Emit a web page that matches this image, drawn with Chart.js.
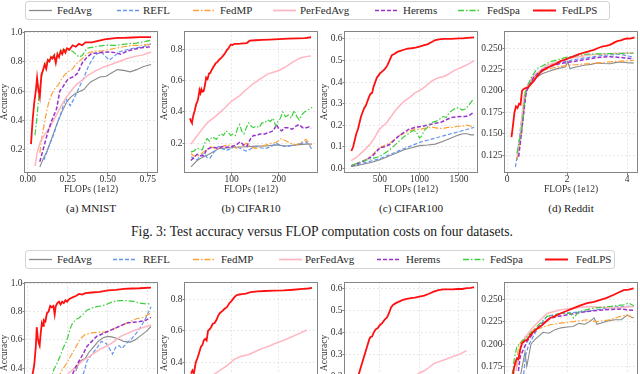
<!DOCTYPE html>
<html>
<head>
<meta charset="utf-8">
<script src="https://cdn.jsdelivr.net/npm/chart.js@4.4.0/dist/chart.umd.min.js"></script>
<style>
  html, body { margin: 0; padding: 0; background: #fff; overflow: hidden; width: 640px; height: 374px; }
  body { position: relative; font-family: 'Liberation Serif', 'Times New Roman', serif; color: #1a1a1a; }
  .legend { position: absolute; left: 25px; height: 19px; border: 1px solid #d4d4d4; border-radius: 3px; box-sizing: border-box; background: #fff; }
  .item { position: absolute; top: 0; height: 100%; font-size: 11px; line-height: 17px; white-space: nowrap; color: #2a2a2a; }
  .item svg { position: absolute; top: 0; }
  .cap { position: absolute; white-space: nowrap; transform: translate(-50%, -50%); }
</style>
</head>
<body>
<script>
  'use strict';

  var FONT = "'Liberation Serif', 'Times New Roman', serif";

  var SERIES = ['FedAvg', 'REFL', 'FedMP', 'PerFedAvg', 'Herems', 'FedSpa', 'FedLPS'];
  var CAPTIONS = ['(a) MNIST', '(b) CIFAR10', '(c) CIFAR100', '(d) Reddit'];
  var FIG_CAPTION = 'Fig. 3: Test accuracy versus FLOP computation costs on four datasets.';

  // tick labels per dataset
  var MNIST_XTICKS = ['0.00', '0.25', '0.50', '0.75'];
  var MNIST_YTICKS = ['0.2', '0.4', '0.6', '0.8', '1.0'];
  var C10_XTICKS = ['100', '200'];
  var C10_YTICKS = ['0.2', '0.4', '0.6', '0.8'];
  var C100_XTICKS = ['500', '1000', '1500'];
  var C100_YTICKS = ['0.0', '0.1', '0.2', '0.3', '0.4', '0.5', '0.6'];
  var RD_XTICKS = ['0', '2', '4'];
  var RD_YTICKS = ['0.125', '0.150', '0.175', '0.200', '0.225', '0.250'];

  // ---- Fig. 3, MNIST: [FLOPs, accuracy]
  var MN1_FEDAVG = [[0.075,0.085],[0.10,0.15],[0.12,0.19],[0.15,0.28],[0.18,0.37],[0.21,0.45],[0.245,0.53],[0.27,0.56],[0.30,0.585],[0.35,0.61],[0.39,0.66],[0.45,0.695],[0.49,0.70],[0.52,0.72],[0.56,0.745],[0.60,0.74],[0.64,0.73],[0.68,0.745],[0.72,0.765],[0.77,0.78]];
  var MN1_REFL = [[0.10,0.13],[0.13,0.22],[0.16,0.30],[0.19,0.40],[0.21,0.46],[0.235,0.55],[0.25,0.53],[0.265,0.50],[0.29,0.55],[0.31,0.60],[0.35,0.69],[0.38,0.77],[0.42,0.845],[0.46,0.865],[0.49,0.83],[0.51,0.81],[0.54,0.835],[0.57,0.865],[0.62,0.88],[0.66,0.89],[0.72,0.90],[0.77,0.92]];
  var MN1_FEDMP = [[0.075,0.18],[0.09,0.30],[0.11,0.42],[0.13,0.52],[0.15,0.58],[0.17,0.62],[0.19,0.64],[0.21,0.68],[0.23,0.71],[0.25,0.73],[0.28,0.75],[0.30,0.78],[0.32,0.80],[0.35,0.83],[0.38,0.86],[0.42,0.87],[0.46,0.87],[0.50,0.88],[0.55,0.89],[0.60,0.90],[0.65,0.91],[0.70,0.91],[0.75,0.915],[0.77,0.92]];
  var MN1_PERFEDAVG = [[0.045,0.09],[0.06,0.19],[0.08,0.26],[0.11,0.31],[0.14,0.36],[0.17,0.42],[0.20,0.48],[0.23,0.54],[0.27,0.60],[0.30,0.64],[0.33,0.665],[0.38,0.71],[0.43,0.74],[0.48,0.765],[0.52,0.78],[0.57,0.80],[0.62,0.82],[0.67,0.835],[0.72,0.845],[0.77,0.865]];
  var MN1_HEREMS = [[0.075,0.12],[0.10,0.22],[0.125,0.32],[0.15,0.40],[0.18,0.48],[0.20,0.60],[0.22,0.63],[0.25,0.68],[0.29,0.70],[0.31,0.72],[0.34,0.79],[0.37,0.83],[0.40,0.855],[0.45,0.86],[0.50,0.865],[0.55,0.86],[0.58,0.85],[0.62,0.87],[0.67,0.885],[0.72,0.895],[0.77,0.90]];
  var MN1_FEDSPA = [[0.045,0.30],[0.06,0.45],[0.07,0.58],[0.08,0.65],[0.09,0.72],[0.10,0.76],[0.12,0.80],[0.14,0.82],[0.16,0.84],[0.18,0.86],[0.20,0.87],[0.22,0.88],[0.25,0.88],[0.28,0.87],[0.30,0.85],[0.32,0.83],[0.34,0.84],[0.37,0.89],[0.42,0.90],[0.48,0.91],[0.55,0.91],[0.62,0.92],[0.68,0.925],[0.73,0.935],[0.77,0.945]];
  var MN1_FEDLPS = [[0.02,0.24],[0.03,0.40],[0.04,0.52],[0.05,0.60],[0.058,0.69],[0.066,0.61],[0.075,0.56],[0.085,0.71],[0.095,0.74],[0.105,0.78],[0.115,0.75],[0.125,0.81],[0.135,0.80],[0.145,0.83],[0.155,0.82],[0.165,0.84],[0.175,0.79],[0.185,0.85],[0.195,0.83],[0.205,0.87],[0.215,0.85],[0.225,0.88],[0.235,0.86],[0.245,0.89],[0.26,0.88],[0.28,0.91],[0.30,0.90],[0.32,0.92],[0.34,0.91],[0.36,0.93],[0.40,0.93],[0.44,0.94],[0.48,0.95],[0.52,0.955],[0.56,0.96],[0.60,0.96],[0.65,0.963],[0.70,0.965],[0.77,0.965]];

  // ---- Fig. 3, CIFAR10
  var C10A_FEDAVG = [[14,0.05],[27,0.09],[41,0.115],[55,0.135],[72,0.165],[90,0.17],[110,0.175],[131,0.178],[152,0.182],[173,0.183],[194,0.19],[215,0.183],[236,0.19],[257,0.195],[270,0.195]];
  var C10A_REFL = [[14,0.115],[21,0.10],[27,0.095],[34,0.12],[41,0.135],[48,0.11],[54,0.105],[62,0.14],[72,0.18],[80,0.165],[90,0.155],[100,0.17],[110,0.18],[120,0.165],[131,0.15],[141,0.165],[152,0.18],[163,0.17],[173,0.168],[184,0.18],[194,0.2],[205,0.185],[215,0.178],[226,0.185],[236,0.19],[247,0.2],[257,0.21],[264,0.19],[270,0.16]];
  var C10A_FEDMP = [[14,0.135],[20,0.12],[27,0.115],[34,0.13],[41,0.147],[48,0.16],[55,0.178],[63,0.17],[72,0.168],[80,0.178],[90,0.19],[100,0.185],[110,0.168],[120,0.18],[131,0.2],[141,0.175],[152,0.168],[163,0.18],[173,0.19],[184,0.2],[194,0.205],[205,0.23],[215,0.215],[226,0.2],[236,0.19],[247,0.205],[257,0.225],[264,0.2],[270,0.18]];
  var C10A_PERFEDAVG = [[14,0.195],[25,0.24],[40,0.30],[50,0.335],[65,0.37],[80,0.41],[90,0.44],[100,0.47],[115,0.50],[130,0.54],[145,0.58],[160,0.61],[175,0.64],[190,0.655],[200,0.665],[215,0.69],[230,0.72],[245,0.745],[260,0.755],[268,0.757]];
  var C10A_HEREMS = [[14,0.09],[20,0.11],[27,0.13],[34,0.12],[41,0.12],[47,0.16],[54,0.17],[61,0.175],[68,0.17],[75,0.175],[82,0.18],[90,0.175],[100,0.18],[110,0.19],[118,0.21],[125,0.19],[132,0.18],[140,0.23],[146,0.25],[153,0.25],[160,0.26],[170,0.26],[180,0.27],[188,0.28],[195,0.32],[200,0.29],[206,0.28],[212,0.30],[220,0.30],[228,0.29],[236,0.31],[243,0.32],[250,0.30],[258,0.30],[264,0.305],[268,0.295]];
  var C10A_FEDSPA = [[14,0.145],[20,0.15],[27,0.17],[33,0.16],[38,0.16],[44,0.21],[48,0.23],[53,0.215],[58,0.24],[63,0.235],[68,0.225],[73,0.25],[78,0.26],[83,0.25],[88,0.28],[93,0.27],[98,0.25],[103,0.26],[108,0.25],[113,0.30],[117,0.32],[121,0.28],[126,0.26],[131,0.30],[136,0.33],[141,0.31],[146,0.30],[152,0.31],[158,0.30],[164,0.33],[170,0.33],[176,0.35],[182,0.34],[188,0.36],[193,0.31],[198,0.34],[203,0.36],[208,0.40],[214,0.37],[220,0.38],[226,0.36],[232,0.41],[238,0.37],[243,0.35],[248,0.38],[254,0.40],[260,0.41],[266,0.42],[270,0.43]];
  var C10A_FEDLPS = [[12,0.36],[14,0.34],[16,0.33],[19,0.38],[22,0.41],[25,0.45],[28,0.47],[30,0.50],[32,0.54],[34,0.52],[36,0.545],[38,0.53],[41,0.535],[44,0.58],[46,0.62],[49,0.61],[52,0.645],[55,0.65],[58,0.67],[62,0.69],[66,0.71],[70,0.72],[74,0.735],[78,0.745],[82,0.76],[86,0.775],[90,0.795],[94,0.81],[98,0.83],[102,0.828],[106,0.835],[112,0.835],[118,0.836],[125,0.838],[132,0.84],[138,0.855],[150,0.858],[165,0.86],[180,0.862],[200,0.865],[220,0.868],[240,0.87],[255,0.872],[268,0.877]];

  // ---- Fig. 3, CIFAR100
  var C100A_FEDAVG = [[135,0.008],[200,0.012],[300,0.02],[400,0.028],[500,0.04],[600,0.055],[700,0.07],[800,0.085],[900,0.095],[1000,0.105],[1100,0.108],[1200,0.112],[1300,0.125],[1400,0.14],[1500,0.155],[1550,0.16],[1600,0.16],[1650,0.155],[1690,0.155]];
  var C100A_REFL = [[135,0.01],[200,0.015],[300,0.025],[400,0.035],[500,0.045],[600,0.06],[700,0.075],[800,0.09],[900,0.105],[1000,0.12],[1100,0.13],[1200,0.14],[1300,0.15],[1400,0.16],[1500,0.17],[1600,0.18],[1690,0.19]];
  var C100A_FEDMP = [[135,0.01],[200,0.02],[300,0.035],[400,0.06],[460,0.085],[520,0.10],[580,0.11],[640,0.12],[700,0.14],[760,0.155],[820,0.165],[880,0.175],[940,0.18],[1000,0.18],[1060,0.185],[1120,0.188],[1180,0.19],[1240,0.185],[1300,0.185],[1360,0.19],[1420,0.19],[1480,0.195],[1540,0.195],[1600,0.20],[1650,0.195],[1690,0.195]];
  var C100A_PERFEDAVG = [[135,0.035],[200,0.05],[260,0.07],[320,0.09],[380,0.115],[430,0.14],[480,0.175],[520,0.19],[580,0.21],[640,0.24],[700,0.27],[760,0.295],[820,0.315],[880,0.33],[940,0.35],[1000,0.36],[1060,0.375],[1120,0.395],[1180,0.41],[1240,0.42],[1300,0.425],[1360,0.435],[1420,0.45],[1480,0.46],[1540,0.47],[1600,0.48],[1650,0.49],[1690,0.50]];
  var C100A_HEREMS = [[135,0.01],[200,0.02],[300,0.035],[400,0.055],[450,0.075],[500,0.095],[560,0.10],[620,0.11],[680,0.13],[740,0.15],[800,0.165],[860,0.18],[920,0.187],[980,0.192],[1040,0.195],[1100,0.2],[1160,0.205],[1220,0.21],[1280,0.215],[1340,0.225],[1400,0.235],[1460,0.238],[1520,0.24],[1580,0.24],[1630,0.245],[1690,0.26]];
  var C100A_FEDSPA = [[135,0.012],[200,0.022],[300,0.035],[400,0.045],[500,0.055],[560,0.07],[620,0.085],[680,0.105],[740,0.125],[800,0.145],[860,0.16],[920,0.175],[960,0.17],[1000,0.14],[1030,0.15],[1060,0.175],[1100,0.19],[1140,0.21],[1180,0.215],[1220,0.22],[1260,0.23],[1300,0.24],[1340,0.235],[1380,0.26],[1420,0.27],[1460,0.28],[1500,0.28],[1540,0.27],[1580,0.275],[1620,0.29],[1660,0.31],[1690,0.325]];
  var C100A_FEDLPS = [[138,0.08],[160,0.10],[180,0.13],[200,0.16],[220,0.18],[240,0.21],[260,0.24],[280,0.26],[300,0.28],[320,0.29],[340,0.31],[360,0.33],[380,0.345],[400,0.35],[420,0.38],[440,0.40],[460,0.42],[480,0.43],[500,0.44],[530,0.45],[560,0.46],[590,0.475],[620,0.50],[650,0.525],[680,0.53],[720,0.54],[760,0.545],[800,0.55],[850,0.555],[900,0.557],[950,0.56],[1000,0.565],[1050,0.57],[1100,0.575],[1150,0.585],[1200,0.595],[1250,0.598],[1300,0.60],[1350,0.60],[1400,0.60],[1450,0.602],[1500,0.603],[1550,0.603],[1600,0.605],[1650,0.606],[1690,0.607]];

  // ---- Fig. 3, Reddit
  var RD1_FEDAVG = [[0.33,0.119],[0.42,0.14],[0.5,0.158],[0.61,0.197],[0.72,0.205],[0.83,0.21],[1.0,0.216],[1.17,0.22],[1.4,0.223],[1.67,0.226],[1.94,0.228],[2.02,0.234],[2.1,0.226],[2.3,0.228],[2.56,0.23],[2.8,0.231],[3.0,0.2325],[3.2,0.232],[3.44,0.2318],[3.6,0.233],[3.78,0.2337],[4.0,0.233],[4.22,0.2325]];
  var RD1_REFL = [[0.28,0.111],[0.36,0.13],[0.44,0.154],[0.5,0.17],[0.56,0.185],[0.67,0.203],[0.89,0.216],[1.22,0.226],[1.67,0.232],[2.1,0.2356],[2.67,0.239],[3.2,0.2415],[3.78,0.243],[4.0,0.241],[4.22,0.2395]];
  var RD1_FEDMP = [[0.33,0.12],[0.42,0.135],[0.5,0.154],[0.61,0.199],[0.83,0.212],[1.17,0.224],[1.67,0.228],[2.1,0.23],[2.78,0.232],[3.44,0.234],[4.22,0.2356]];
  var RD1_PERFEDAVG = [[0.35,0.125],[0.45,0.15],[0.56,0.193],[0.7,0.208],[0.89,0.218],[1.33,0.23],[2.0,0.2376],[2.78,0.2422],[3.5,0.2437],[4.22,0.2445]];
  var RD1_HEREMS = [[0.39,0.123],[0.53,0.166],[0.64,0.199],[0.89,0.216],[1.22,0.226],[1.78,0.232],[2.33,0.235],[3.0,0.239],[3.44,0.240],[3.78,0.239],[4.22,0.2375]];
  var RD1_FEDSPA = [[0.33,0.127],[0.5,0.158],[0.61,0.199],[0.78,0.214],[1.0,0.226],[1.44,0.234],[2.0,0.2395],[2.67,0.243],[3.44,0.2435],[4.22,0.244]];
  var RD1_FEDLPS = [[0.15,0.146],[0.2,0.16],[0.25,0.175],[0.3,0.182],[0.35,0.18],[0.4,0.185],[0.45,0.184],[0.5,0.2],[0.55,0.202],[0.6,0.203],[0.7,0.204],[0.8,0.208],[0.9,0.212],[1.0,0.217],[1.1,0.221],[1.2,0.224],[1.3,0.226],[1.4,0.228],[1.5,0.23],[1.6,0.231],[1.7,0.233],[1.8,0.235],[1.9,0.236],[2.0,0.2375],[2.1,0.239],[2.2,0.24],[2.3,0.2415],[2.4,0.243],[2.5,0.244],[2.6,0.245],[2.7,0.246],[2.8,0.247],[2.9,0.248],[3.0,0.2495],[3.1,0.251],[3.2,0.252],[3.3,0.2525],[3.4,0.2535],[3.5,0.255],[3.6,0.257],[3.7,0.2585],[3.8,0.259],[3.9,0.2605],[4.0,0.2612],[4.1,0.261],[4.2,0.262],[4.25,0.2625]];

  // ---- second figure (cut off at the bottom), MNIST
  var MN2_FEDAVG = [[0.30,0.38],[0.32,0.44],[0.34,0.46],[0.36,0.47],[0.38,0.51],[0.41,0.55],[0.44,0.59],[0.47,0.615],[0.50,0.625],[0.53,0.62],[0.56,0.61],[0.60,0.59],[0.64,0.585],[0.67,0.60],[0.70,0.625],[0.74,0.66],[0.77,0.695]];
  var MN2_REFL = [[0.33,0.32],[0.35,0.37],[0.37,0.45],[0.40,0.50],[0.43,0.54],[0.46,0.59],[0.49,0.575],[0.51,0.54],[0.53,0.50],[0.55,0.55],[0.57,0.56],[0.59,0.54],[0.62,0.58],[0.65,0.61],[0.68,0.65],[0.71,0.70],[0.74,0.76],[0.77,0.835]];
  var MN2_FEDMP = [[0.19,0.33],[0.21,0.38],[0.24,0.43],[0.27,0.49],[0.29,0.53],[0.31,0.57],[0.33,0.61],[0.36,0.64],[0.40,0.65],[0.44,0.655],[0.48,0.655],[0.52,0.67],[0.56,0.69],[0.60,0.71],[0.64,0.73],[0.68,0.75],[0.72,0.76],[0.77,0.79]];
  var MN2_PERFEDAVG = [[0.22,0.33],[0.26,0.37],[0.30,0.41],[0.34,0.45],[0.38,0.48],[0.42,0.51],[0.46,0.54],[0.50,0.56],[0.54,0.59],[0.58,0.625],[0.62,0.645],[0.66,0.665],[0.70,0.68],[0.74,0.695],[0.77,0.705]];
  var MN2_HEREMS = [[0.28,0.36],[0.30,0.41],[0.32,0.45],[0.35,0.51],[0.37,0.555],[0.40,0.59],[0.43,0.625],[0.46,0.64],[0.50,0.66],[0.54,0.68],[0.58,0.70],[0.62,0.72],[0.66,0.725],[0.70,0.73],[0.74,0.74],[0.77,0.76]];
  var MN2_FEDSPA = [[0.14,0.30],[0.16,0.385],[0.18,0.43],[0.20,0.48],[0.22,0.54],[0.245,0.60],[0.265,0.68],[0.28,0.72],[0.30,0.745],[0.32,0.755],[0.34,0.775],[0.37,0.81],[0.40,0.825],[0.43,0.835],[0.46,0.84],[0.49,0.85],[0.52,0.865],[0.55,0.875],[0.58,0.878],[0.62,0.878],[0.66,0.872],[0.70,0.86],[0.74,0.855],[0.77,0.855]];
  var MN2_FEDLPS = [[0.02,0.25],[0.03,0.36],[0.04,0.42],[0.05,0.55],[0.056,0.69],[0.062,0.62],[0.068,0.58],[0.074,0.56],[0.08,0.64],[0.088,0.72],[0.095,0.70],[0.10,0.74],[0.11,0.73],[0.12,0.79],[0.13,0.80],[0.14,0.84],[0.15,0.83],[0.16,0.84],[0.168,0.78],[0.175,0.84],[0.185,0.86],[0.195,0.87],[0.205,0.85],[0.215,0.87],[0.225,0.86],[0.235,0.88],[0.245,0.87],[0.26,0.89],[0.28,0.90],[0.30,0.91],[0.32,0.925],[0.34,0.92],[0.36,0.93],[0.40,0.935],[0.45,0.94],[0.50,0.95],[0.55,0.953],[0.60,0.96],[0.65,0.963],[0.70,0.965],[0.77,0.97]];

  // second figure, CIFAR10 / CIFAR100 (only the visible upper curves)
  var C10B_PERFEDAVG = [[14,0.19],[30,0.23],[45,0.28],[60,0.32],[75,0.35],[90,0.38],[105,0.42],[120,0.44],[135,0.45],[150,0.47],[165,0.49],[180,0.505],[195,0.525],[210,0.54],[225,0.56],[240,0.58],[259,0.606]];
  var C10B_FEDLPS = [[14,0.33],[17,0.35],[20,0.33],[24,0.40],[28,0.43],[32,0.47],[35,0.50],[38,0.51],[41,0.54],[44,0.55],[47,0.54],[50,0.60],[53,0.61],[56,0.62],[60,0.645],[64,0.65],[68,0.67],[72,0.70],[76,0.715],[80,0.725],[85,0.74],[90,0.75],[95,0.775],[100,0.79],[105,0.81],[110,0.825],[116,0.83],[122,0.832],[130,0.835],[140,0.845],[155,0.85],[170,0.852],[190,0.855],[210,0.856],[230,0.86],[250,0.865],[262,0.868],[270,0.872]];
  var C100B_PERFEDAVG = [[880,0.185],[990,0.213],[1060,0.225],[1120,0.24],[1181,0.258],[1260,0.268],[1351,0.28],[1420,0.29],[1479,0.297],[1540,0.307],[1594,0.317]];
  var C100B_FEDLPS = [[138,0.07],[165,0.11],[190,0.15],[215,0.19],[240,0.22],[265,0.25],[290,0.28],[315,0.31],[340,0.34],[365,0.37],[380,0.38],[400,0.382],[420,0.40],[445,0.415],[470,0.42],[500,0.435],[530,0.445],[560,0.46],[590,0.47],[615,0.49],[640,0.515],[665,0.527],[700,0.535],[740,0.542],[790,0.55],[840,0.555],[890,0.558],[940,0.56],[1000,0.565],[1060,0.57],[1120,0.578],[1180,0.588],[1240,0.595],[1300,0.598],[1360,0.598],[1420,0.598],[1480,0.60],[1540,0.6],[1600,0.604],[1650,0.605],[1690,0.608]];

  // second figure, Reddit
  var RD2_FEDAVG = [[0.45,0.165],[0.6,0.191],[0.66,0.175],[0.8,0.2],[0.93,0.205],[1.2,0.213],[1.4,0.212],[1.6,0.216],[1.8,0.218],[2.0,0.219],[2.2,0.2195],[2.4,0.223],[2.6,0.222],[2.8,0.226],[2.9,0.229],[3.0,0.222],[3.2,0.224],[3.4,0.226],[3.6,0.227],[3.8,0.227],[4.0,0.232],[4.22,0.229]];
  var RD2_REFL = [[0.52,0.16],[0.56,0.1675],[0.61,0.186],[0.72,0.199],[1.0,0.216],[1.33,0.2307],[1.78,0.234],[2.67,0.2363],[3.33,0.24],[3.78,0.2418],[4.22,0.2418]];
  var RD2_FEDMP = [[0.3,0.175],[0.39,0.197],[0.44,0.201],[0.6,0.208],[0.89,0.216],[1.11,0.2177],[1.44,0.2214],[1.78,0.2233],[2.22,0.225],[2.67,0.227],[3.0,0.225],[3.44,0.227],[3.78,0.2307],[4.0,0.2325],[4.22,0.2288]];
  var RD2_PERFEDAVG = [[0.3,0.17],[0.45,0.195],[0.64,0.209],[0.89,0.2195],[1.33,0.234],[1.78,0.238],[2.67,0.2418],[3.56,0.24],[4.22,0.2418]];
  var RD2_HEREMS = [[0.38,0.17],[0.44,0.186],[0.67,0.203],[1.0,0.2177],[1.44,0.229],[2.0,0.2325],[2.67,0.2363],[3.22,0.238],[3.78,0.2389],[4.22,0.2374]];
  var RD2_FEDSPA = [[0.17,0.165],[0.25,0.185],[0.33,0.197],[0.5,0.203],[0.67,0.208],[1.0,0.2195],[1.33,0.2307],[1.78,0.234],[2.11,0.234],[2.22,0.229],[2.39,0.236],[2.89,0.24],[3.44,0.2418],[3.89,0.2437],[4.06,0.2455],[4.22,0.2426]];
  var RD2_FEDLPS = [[0.15,0.14],[0.22,0.171],[0.28,0.18],[0.33,0.184],[0.38,0.183],[0.44,0.194],[0.5,0.201],[0.58,0.203],[0.67,0.205],[0.78,0.21],[0.89,0.214],[1.0,0.217],[1.17,0.221],[1.3,0.225],[1.44,0.229],[1.6,0.231],[1.78,0.234],[2.0,0.237],[2.22,0.24],[2.45,0.243],[2.67,0.2455],[2.9,0.247],[3.11,0.249],[3.3,0.251],[3.56,0.2548],[3.7,0.257],[3.89,0.26],[4.05,0.2605],[4.22,0.262]];

  // ---- styles and layout
  var COLORS = ['#8a8a8a', '#6495ed', '#ffa033', '#ffb6c1', '#9932cc', '#3ccf3c', '#ff1010'];
  var WIDTHS = [1.1, 1.2, 1.2, 1.5, 1.5, 1.2, 1.8];
  var DASHES = [[], [4, 2], [6, 2, 1.5, 2], [], [4, 2], [6, 2, 1.5, 2], []];

  var PLOT_LEFT = [25, 185, 345, 505];
  var PLOT_W = 132, PLOT_H = 142;
  var Y_AXIS_W = 25, X_AXIS_H = 27, PAD_TOP = 6, PAD_RIGHT = 3;

  var frame = {
    id: 'frame',
    afterDatasetsDraw: function (chart) {
      var a = chart.chartArea, ctx = chart.ctx;
      ctx.save();
      ctx.strokeStyle = '#858585';
      ctx.lineWidth = 1;
      ctx.strokeRect(Math.round(a.left) - 0.5, Math.round(a.top) + 0.5,
        Math.round(a.right - a.left) + 1, Math.round(a.bottom - a.top) - 1);
      ctx.restore();
    }
  };

  function axis(dir, range, labels, title, showTitle) {
    var vals = labels.map(Number);
    return {
      type: 'linear',
      min: range[0],
      max: range[1],
      afterBuildTicks: function (s) {
        s.ticks = vals.map(function (v) { return { value: v }; });
      },
      afterFit: function (s) {
        if (dir === 'x') s.height = X_AXIS_H; else s.width = Y_AXIS_W;
      },
      ticks: {
        autoSkip: false,
        maxRotation: 0,
        padding: dir === 'x' ? -1 : 0,
        color: '#333',
        font: { family: FONT, size: 9.5, lineHeight: 1 },
        callback: function (v, i) { return labels[i]; }
      },
      grid: { color: '#e2e2e2', lineWidth: 0.8, tickLength: 2.5, tickColor: '#666', borderDash: [2, 2] },
      border: { display: false, dash: [2, 2] },
      title: {
        display: showTitle,
        text: title,
        color: '#333',
        font: { family: FONT, size: 9.5, lineHeight: dir === 'x' ? 1 : 0.9 },
        padding: dir === 'x' ? { top: 0, bottom: 6 } : { top: 0, bottom: 0 }
      }
    };
  }

  function makePlot(col, plotTop, xr, yr, xLabels, yLabels, lines, showYTitle) {
    var cv = document.createElement('canvas');
    var w = Y_AXIS_W + PLOT_W + PAD_RIGHT, h = PAD_TOP + PLOT_H + X_AXIS_H;
    cv.width = w;
    cv.height = h;
    cv.style.cssText = 'position:absolute;left:' + (PLOT_LEFT[col] - Y_AXIS_W) + 'px;top:' +
      (plotTop - PAD_TOP) + 'px;width:' + w + 'px;height:' + h + 'px';
    document.body.appendChild(cv);

    var datasets = [];
    lines.forEach(function (pts, i) {
      if (!pts) return;
      datasets.push({
        label: SERIES[i],
        data: pts.map(function (p) { return { x: p[0], y: p[1] }; }),
        borderColor: COLORS[i],
        borderWidth: WIDTHS[i],
        borderDash: DASHES[i],
        pointRadius: 0,
        tension: 0,
        fill: false,
        order: 10 - i
      });
    });

    new Chart(cv, {
      type: 'line',
      data: { datasets: datasets },
      options: {
        responsive: false,
        animation: false,
        events: [],
        layout: { padding: { top: PAD_TOP, right: PAD_RIGHT, left: 0, bottom: 0 } },
        plugins: { legend: { display: false }, tooltip: { enabled: false } },
        scales: {
          x: axis('x', xr, xLabels, 'FLOPs (1e12)', true),
          y: axis('y', yr, yLabels, 'Accuracy', showYTitle)
        }
      },
      plugins: [frame]
    });
  }

  function makeLegend(top, boxRight, lineLefts, textLefts) {
    var box = document.createElement('div');
    box.className = 'legend';
    box.style.top = top + 'px';
    box.style.width = (boxRight - 25) + 'px';
    SERIES.forEach(function (name, i) {
      var it = document.createElement('div');
      it.className = 'item';
      it.style.left = (lineLefts[i] - 26) + 'px';
      var len = 23;
      it.innerHTML =
        '<svg width="' + len + '" height="17"><line x1="0" y1="8.5" x2="' + len + '" y2="8.5" stroke="' +
        COLORS[i] + '" stroke-width="' + (WIDTHS[i] + 0.2) + '" stroke-dasharray="' + DASHES[i].join(' ') +
        '"/></svg><span style="position:absolute;left:' + (textLefts[i] - lineLefts[i]) + 'px">' + name + '</span>';
      box.appendChild(it);
    });
    document.body.appendChild(box);
  }

  function text(str, x, y, size) {
    var d = document.createElement('div');
    d.className = 'cap';
    d.style.left = x + 'px';
    d.style.top = y + 'px';
    d.style.fontSize = size + 'px';
    d.textContent = str;
    document.body.appendChild(d);
  }

  // top figure
  makeLegend(1, 610, [29, 117, 193, 273, 375, 458, 533], [57, 143, 220, 300, 403, 487, 562]);
  makePlot(0, 31, [-0.0175, 0.8075], [0.044, 1.007], MNIST_XTICKS, MNIST_YTICKS,
    [MN1_FEDAVG, MN1_REFL, MN1_FEDMP, MN1_PERFEDAVG, MN1_HEREMS, MN1_FEDSPA, MN1_FEDLPS], true);
  makePlot(1, 31, [1.3, 280.5], [0.0105, 0.917], C10_XTICKS, C10_YTICKS,
    [C10A_FEDAVG, C10A_REFL, C10A_FEDMP, C10A_PERFEDAVG, C10A_HEREMS, C10A_FEDSPA, C10A_FEDLPS], true);
  makePlot(2, 31, [57, 1728], [-0.022, 0.637], C100_XTICKS, C100_YTICKS,
    [C100A_FEDAVG, C100A_REFL, C100A_FEDMP, C100A_PERFEDAVG, C100A_HEREMS, C100A_FEDSPA, C100A_FEDLPS], true);
  makePlot(3, 31, [-0.067, 4.333], [0.104, 0.270], RD_XTICKS, RD_YTICKS,
    [RD1_FEDAVG, RD1_REFL, RD1_FEDMP, RD1_PERFEDAVG, RD1_HEREMS, RD1_FEDSPA, RD1_FEDLPS], false);

  CAPTIONS.forEach(function (c, i) {
    text(c, PLOT_LEFT[i] + PLOT_W / 2, 208, 11.2);
  });
  text(FIG_CAPTION, 322, 232, 13.6);

  // second figure (cropped)
  makeLegend(250, 615, [29, 113, 193, 279, 377, 463, 545], [57, 143, 221, 305, 406, 490, 576]);
  makePlot(0, 282, [-0.0175, 0.8075], [0.007, 1.009], MNIST_XTICKS, MNIST_YTICKS,
    [MN2_FEDAVG, MN2_REFL, MN2_FEDMP, MN2_PERFEDAVG, MN2_HEREMS, MN2_FEDSPA, MN2_FEDLPS], true);
  makePlot(1, 282, [1.3, 280.5], [0.012, 0.909], C10_XTICKS, C10_YTICKS,
    [null, null, null, C10B_PERFEDAVG, null, null, C10B_FEDLPS], true);
  makePlot(2, 282, [57, 1728], [-0.019, 0.632], C100_XTICKS, C100_YTICKS,
    [null, null, null, C100B_PERFEDAVG, null, null, C100B_FEDLPS], true);
  makePlot(3, 282, [-0.067, 4.333], [0.111, 0.269], RD_XTICKS, RD_YTICKS,
    [RD2_FEDAVG, RD2_REFL, RD2_FEDMP, RD2_PERFEDAVG, RD2_HEREMS, RD2_FEDSPA, RD2_FEDLPS], false);
</script>
</body>
</html>
